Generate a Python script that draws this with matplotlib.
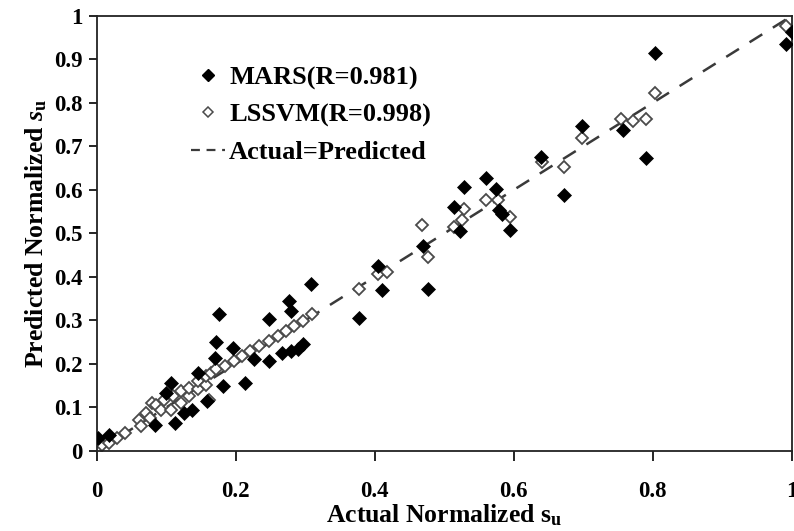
import matplotlib
matplotlib.use("Agg")
import matplotlib.pyplot as plt
from matplotlib.lines import Line2D

plt.rcParams["font.family"] = ["Liberation Serif", "DejaVu Serif"]
plt.rcParams["font.weight"] = "bold"
plt.rcParams["mathtext.fontset"] = "custom"
plt.rcParams["mathtext.rm"] = "Liberation Serif:bold"
plt.rcParams["mathtext.it"] = "Liberation Serif:italic:bold"
plt.rcParams["mathtext.bf"] = "Liberation Serif:bold"

# MARS predictions (actual, predicted)
mars_actual = [0.002, 0.018, 0.084, 0.113, 0.125, 0.137, 0.099, 0.106, 0.145, 0.159,
               0.182, 0.213, 0.170, 0.172, 0.196, 0.176, 0.226, 0.248, 0.248, 0.267,
               0.279, 0.289, 0.296, 0.277, 0.280, 0.308, 0.378, 0.404, 0.411, 0.469,
               0.476, 0.514, 0.522, 0.529, 0.560, 0.574, 0.579, 0.583, 0.594, 0.639,
               0.673, 0.698, 0.758, 0.791, 0.804, 0.992, 1.000]
mars_pred = [0.029, 0.037, 0.060, 0.064, 0.087, 0.095, 0.133, 0.155, 0.179, 0.114,
             0.150, 0.155, 0.214, 0.250, 0.237, 0.314, 0.212, 0.206, 0.303, 0.226,
             0.229, 0.233, 0.245, 0.345, 0.322, 0.383, 0.306, 0.426, 0.369, 0.472,
             0.372, 0.560, 0.505, 0.607, 0.627, 0.601, 0.553, 0.545, 0.507, 0.676,
             0.588, 0.748, 0.737, 0.674, 0.915, 0.936, 0.962]

# LSSVM predictions (actual, predicted)
lssvm_actual = [0.000, 0.008, 0.017, 0.029, 0.041, 0.061, 0.063, 0.070, 0.077, 0.080,
                0.085, 0.092, 0.097, 0.106, 0.109, 0.121, 0.121, 0.133, 0.133, 0.145,
                0.145, 0.157, 0.157, 0.161, 0.164, 0.171, 0.185, 0.197, 0.209, 0.221,
                0.233, 0.248, 0.260, 0.272, 0.284, 0.296, 0.310, 0.378, 0.404, 0.418,
                0.468, 0.476, 0.514, 0.526, 0.529, 0.560, 0.577, 0.594, 0.640, 0.673,
                0.698, 0.755, 0.771, 0.791, 0.804, 0.992]
lssvm_pred = [0.002, 0.014, 0.018, 0.029, 0.041, 0.072, 0.056, 0.087, 0.075, 0.110,
              0.106, 0.095, 0.118, 0.095, 0.125, 0.110, 0.137, 0.125, 0.145, 0.141,
              0.160, 0.152, 0.172, 0.118, 0.179, 0.187, 0.195, 0.206, 0.218, 0.229,
              0.241, 0.252, 0.264, 0.276, 0.287, 0.299, 0.314, 0.372, 0.406, 0.412,
              0.520, 0.445, 0.514, 0.530, 0.557, 0.576, 0.576, 0.537, 0.665, 0.652,
              0.720, 0.762, 0.758, 0.763, 0.822, 0.976]

identity = [0, 1]
x_ticks = [0, 0.2, 0.4, 0.6, 0.8, 1]
x_ticklabels = ["0", "0.2", "0.4", "0.6", "0.8", "1"]
y_ticks = [0, 0.1, 0.2, 0.3, 0.4, 0.5, 0.6, 0.7, 0.8, 0.9, 1]
y_ticklabels = ["0", "0.1", "0.2", "0.3", "0.4", "0.5", "0.6", "0.7", "0.8", "0.9", "1"]

fig = plt.figure(figsize=(7.94, 5.31), dpi=100)
ax = fig.add_axes([0.122, 0.151, 0.875, 0.819])

ax.plot(identity, identity, linestyle=(0, (6, 5)), color="#3a3a3a", lw=1.8, zorder=1)
ax.plot(lssvm_actual, lssvm_pred, linestyle="none", marker="D", ms=6.0,
        mfc="white", mec="#4a4a4a", mew=1.3, zorder=2)
ax.plot(mars_actual, mars_pred, linestyle="none", marker="D", ms=6.8,
        mfc="black", mec="black", mew=0.5, zorder=3)

ax.set_xlim(0, 1)
ax.set_ylim(0, 1)
ax.set_xticks(x_ticks)
ax.set_xticklabels(x_ticklabels)
ax.set_yticks(y_ticks)
ax.set_yticklabels(y_ticklabels)
ax.tick_params(axis="x", direction="out", length=7, width=1.2, pad=15, labelsize=16.5)
ax.tick_params(axis="y", direction="out", length=6, width=1.2, pad=4, labelsize=16.5)
for s in ax.spines.values():
    s.set_linewidth(1.3)
    s.set_color("#222222")

ax.set_xlabel(r"Actual Normalized $\mathregular{s_u}$", fontsize=18.5, fontweight="bold", labelpad=0)
ax.set_ylabel(r"Predicted Normalized $\mathit{s}_\mathregular{u}$", fontsize=18.5, fontweight="bold", labelpad=4)

handles = [
    Line2D([], [], linestyle="none", marker="D", ms=6, mfc="black", mec="black"),
    Line2D([], [], linestyle="none", marker="D", ms=5.5, mfc="white", mec="#4a4a4a", mew=1.1),
    Line2D([], [], linestyle=(0, (4, 3)), color="#3a3a3a", lw=1.6),
]
labels = ["MARS(R=0.981)", "LSSVM(R=0.998)", "Actual=Predicted"]
leg = ax.legend(handles, labels, loc="upper left", bbox_to_anchor=(0.12, 0.91),
                frameon=False, fontsize=19, handlelength=1.3, handletextpad=0.15,
                labelspacing=0.52, borderaxespad=0)

fig.savefig("out.png", dpi=100)
